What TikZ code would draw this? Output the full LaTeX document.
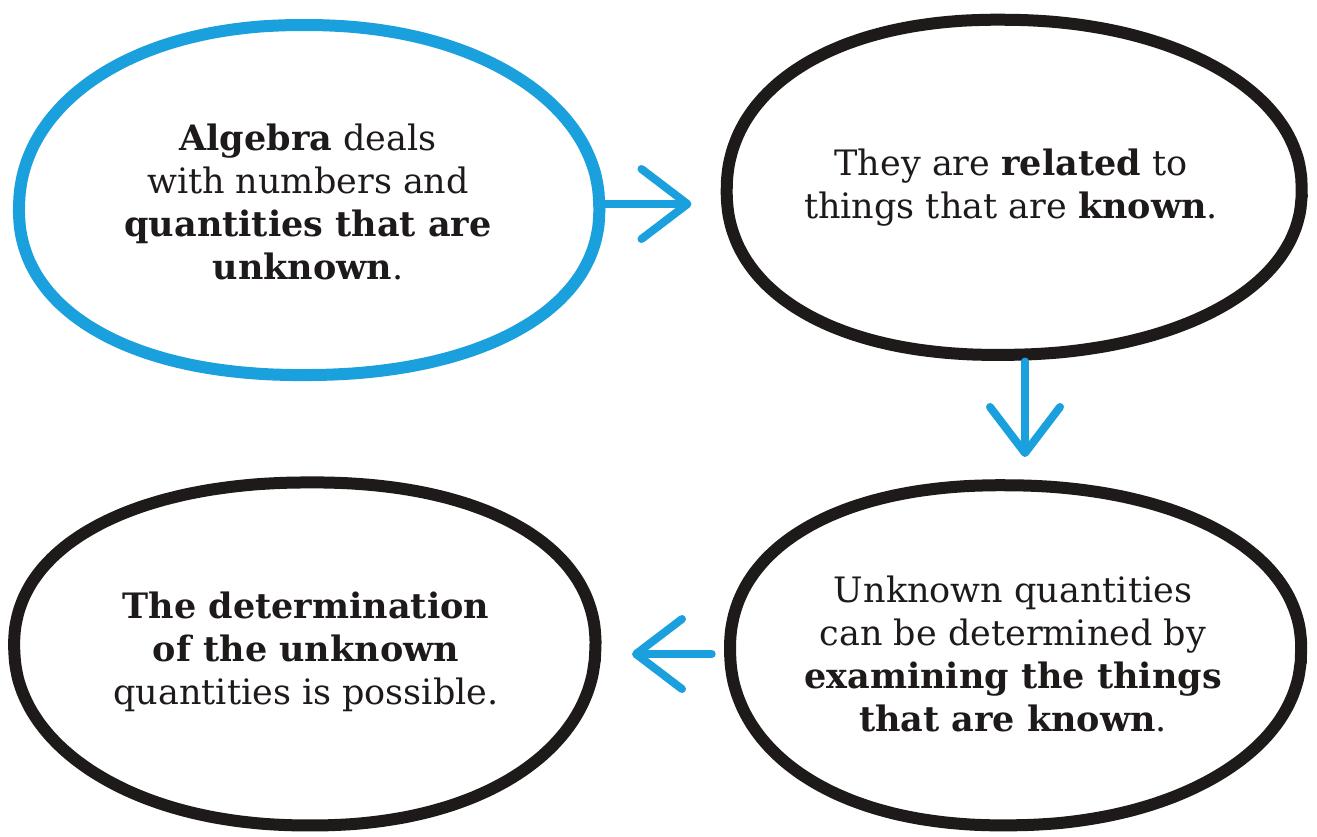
\documentclass[tikz,border=0pt]{standalone}
\usepackage{fontspec}
\setmainfont{DejaVu Serif}
\usetikzlibrary{arrows.meta,shapes.geometric,calc}
\definecolor{cblue}{HTML}{1AA0DC}
\definecolor{cink}{HTML}{1E1A1A}
\newcommand{\blobline}[5]{% node, a, b, colour, phase
  \draw[#4, line width=6pt, line join=round, shift={(#1.center)}]
    plot[domain=2:362, samples=73, smooth cycle, variable=\t]
    ({#2*(1+0.012*sin(3*\t+#5))*sign(cos(\t))*pow(abs(cos(\t)),0.93)},
     {#3*(1+0.012*sin(3*\t+#5))*sign(sin(\t))*pow(abs(sin(\t)),0.93)});}
\begin{document}
\begin{tikzpicture}[x=0.5pt,y=-0.5pt,
  bubble/.style={ellipse, draw=none, outer sep=3pt, inner sep=0pt, align=center,
    text=cink, font=\fontsize{17.5pt}{21.5pt}\selectfont},
  arr/.style={draw=cblue, line width=4pt, line cap=round,
    -{Straight Barb[length=23pt,width=35pt,round]}}
]
\useasboundingbox (0,0) rectangle (1317,836);
\fill[white] (0,0) rectangle (1317,836);

\node[bubble, minimum width=290pt, minimum height=175pt] (e1) at (308,202)
  {\textbf{Algebra} deals\\ with numbers and\\ \textbf{quantities that are}\\ \textbf{unknown}.};
\node[bubble, minimum width=287.5pt, minimum height=167.5pt] (e2) at (1011,188)
  {They are \textbf{related} to\\ things that are \textbf{known}.};
\node[bubble, minimum width=285.5pt, minimum height=170pt] (e3) at (1013,654)
  {Unknown quantities\\ can be determined by\\ \textbf{examining the things}\\ \textbf{that are known}.};
\node[bubble, minimum width=290.5pt, minimum height=171.5pt] (e4) at (306,652)
  {\textbf{The determination}\\ \textbf{of the unknown}\\ quantities is possible.};

\blobline{e1}{290}{175}{cblue}{20}
\blobline{e2}{287.5}{167.5}{cink}{70}
\blobline{e3}{285.5}{170}{cink}{130}
\blobline{e4}{290.5}{171.5}{cink}{200}

\draw[arr, shorten >=10.5pt] ([yshift=-1pt]e1.east) -- ([yshift=-1pt]e1.east -| e2.west);
\draw[arr, shorten >=10.5pt] ([xshift=7pt]e2.south) -- ([xshift=7pt]e2.south |- e3.north);
\draw[arr, shorten >=14.75pt] (e3.west) -- (e3.west -| e4.east);
\end{tikzpicture}
\end{document}
